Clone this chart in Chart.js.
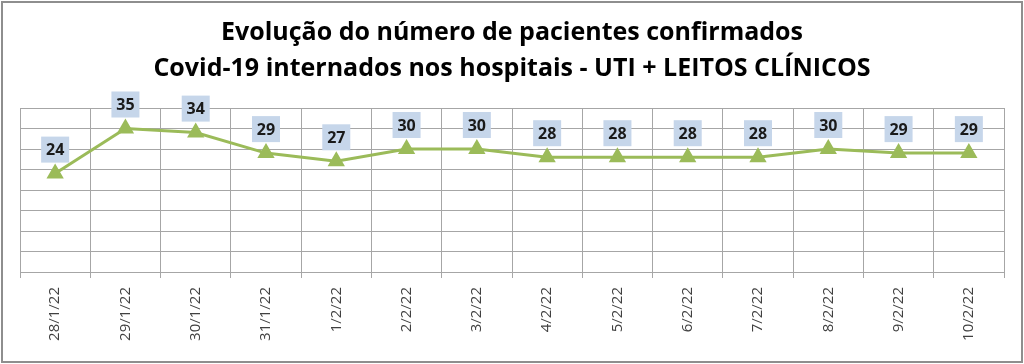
<!DOCTYPE html>
<html>
<head>
<meta charset="utf-8">
<script src="https://cdn.jsdelivr.net/npm/chart.js@4/dist/chart.umd.min.js"></script>
<style>
  html, body { margin: 0; padding: 0; background: #fff; }
  #wrap { position: absolute; left: 0; top: 0; width: 1024px; height: 364px; }
</style>
</head>
<body>
<div id="wrap"><canvas id="uti-chart" width="1024" height="364"></canvas></div>
<script>
// datas e valores
const labelDias = ["28/1/22","29/1/22","30/1/22","31/1/22","1/2/22","2/2/22","3/2/22","4/2/22","5/2/22","6/2/22","7/2/22","8/2/22","9/2/22","10/2/22"]
const pacientes = [24,35,34,29,27,30,30,28,28,28,28,30,29,29]
const tituloLinhas = ["Evolução do número de pacientes confirmados","Covid-19 internados nos hospitais - UTI + LEITOS CLÍNICOS"]

// moldura cinza em volta de tudo
const moldura = {
    id: "moldura",
    beforeDraw(chart) {
        const ctx = chart.ctx
        ctx.save()
        ctx.fillStyle = "#fff"
        ctx.fillRect(0, 0, chart.width, chart.height)
        ctx.strokeStyle = "#8e8e8e"
        ctx.lineWidth = 2
        ctx.strokeRect(2, 2, chart.width - 4, chart.height - 4)
        ctx.restore()
    }
}

// caixinhas azuis com o valor acima de cada ponto
const rotulos = {
    id: "rotulos",
    afterDatasetsDraw(chart) {
        const ctx = chart.ctx
        const meta = chart.getDatasetMeta(0)
        ctx.save()
        ctx.font = "bold 16px 'Open Sans'"
        ctx.textAlign = "center"
        ctx.textBaseline = "middle"
        meta.data.forEach((pt, i) => {
            const w = 28, h = 26
            const x = pt.x, y = pt.y - 24
            ctx.fillStyle = "#c6d6ea"
            ctx.fillRect(x - w / 2, y - h / 2, w, h)
            ctx.fillStyle = "#1a1a1a"
            ctx.fillText(String(pacientes[i]), x, y + 1)
        })
        ctx.restore()
    }
}

new Chart("uti-chart", {
    type: "line",
    data: {
        labels: labelDias,
        datasets: [{
            data: pacientes,
            borderColor: "#9bbb59",
            backgroundColor: "#9bbb59",
            borderWidth: 3,
            pointStyle: "triangle",
            pointRadius: 7,
            pointHoverRadius: 7,
            tension: 0,
            fill: false
        }]
    },
    options: {
        responsive: false,
        animation: false,
        layout: { padding: { left: 20, right: 20, top: 0, bottom: 0 } },
        plugins: {
            legend: { display: false },
            tooltip: { enabled: false },
            title: {
                display: true,
                text: tituloLinhas,
                color: "#000",
                font: { family: "'Open Sans'", size: 25, weight: "bold", lineHeight: 1.44 },
                padding: { top: 15, bottom: 21 }
            }
        },
        scales: {
            x: {
                offset: true,
                grid: { offset: true, color: "#a6a6a6", lineWidth: 1, tickLength: 6, drawOnChartArea: true },
                border: { color: "#a6a6a6" },
                ticks: {
                    minRotation: 90, maxRotation: 90, autoSkip: false,
                    color: "#404040", padding: 9,
                    font: { family: "'Open Sans'", size: 15 }
                },
                afterFit(scale) { scale.height = 92 }
            },
            y: {
                min: 0, max: 40,
                grid: { color: "#a6a6a6", lineWidth: 1, drawTicks: false },
                border: { color: "#a6a6a6" },
                ticks: { display: false, stepSize: 5 },
                afterFit(scale) { scale.width = 0 }
            }
        }
    },
    plugins: [moldura, rotulos]
});
</script>
</body>
</html>
